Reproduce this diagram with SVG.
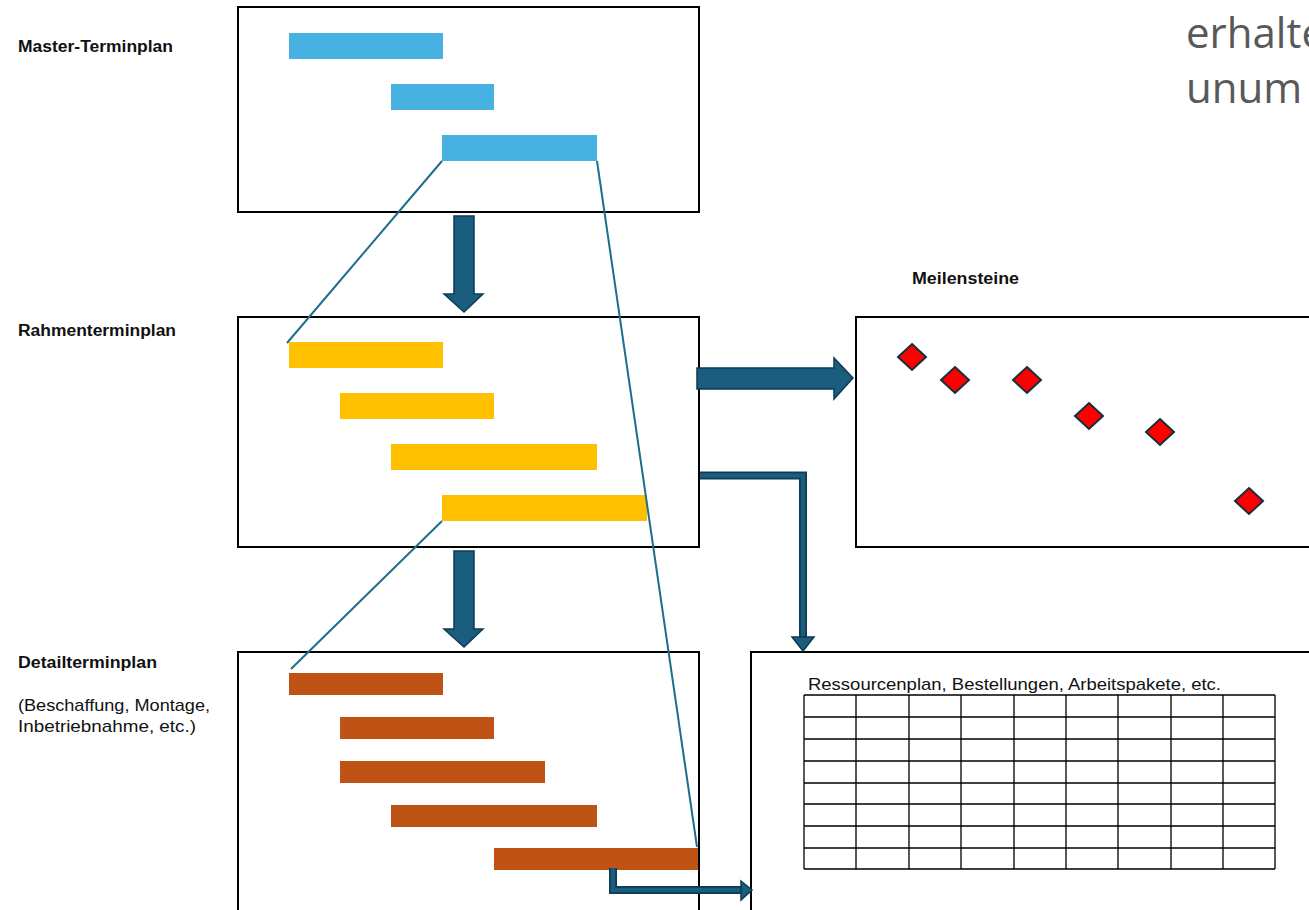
<svg xmlns="http://www.w3.org/2000/svg" width="1309" height="910" viewBox="0 0 1309 910">
<style>
.box{fill:#fff;stroke:#000;stroke-width:2}
.blue{fill:#47B2E2}
.yel{fill:#FFC000}
.ora{fill:#BF5215}
.lbl{font-family:"Liberation Sans",Arial,sans-serif;font-weight:bold;font-size:16px;fill:#111}
.txt{font-family:"Liberation Sans",Arial,sans-serif;font-size:17px;fill:#111}
.big{font-family:"Open Sans","Noto Sans",sans-serif;font-size:42px;fill:#595959}
.ln{stroke:#1F6D8E;stroke-width:2;fill:none}
.arr{fill:#1A5D7E;stroke:#0E3A52;stroke-width:1.5}
.elb{fill:none;stroke:#0E3A52;stroke-width:8}
.elbi{fill:none;stroke:#1A5D7E;stroke-width:4.5}
.dia{fill:#FF0000;stroke:#14303F;stroke-width:2}
.grid{stroke:#000;stroke-width:1.3;fill:none}
</style>
<rect width="1309" height="910" fill="#fff"/>
<g id="top-text">
<text class="big" x="1186" y="48">erhalte</text>
<text class="big" x="1186" y="103">unum</text>
</g>
<g id="master">
<text class="lbl" x="18" y="52" textLength="155" lengthAdjust="spacingAndGlyphs">Master-Terminplan</text>
<rect class="box" x="238" y="7" width="461" height="205"/>
<rect class="blue" x="289" y="33" width="154" height="26"/>
<rect class="blue" x="391" y="84" width="103" height="26"/>
<rect class="blue" x="442" y="135" width="155" height="26"/>
</g>
<g id="rahmen">
<text class="lbl" x="18" y="336" textLength="158" lengthAdjust="spacingAndGlyphs">Rahmenterminplan</text>
<rect class="box" x="238" y="317" width="461" height="230"/>
<rect class="yel" x="289" y="342" width="154" height="26"/>
<rect class="yel" x="340" y="393" width="154" height="26"/>
<rect class="yel" x="391" y="444" width="206" height="26"/>
<rect class="yel" x="442" y="495" width="205" height="26"/>
</g>
<g id="detail">
<text class="lbl" x="18" y="668" textLength="139" lengthAdjust="spacingAndGlyphs">Detailterminplan</text>
<text class="txt" x="18" y="711" textLength="192" lengthAdjust="spacingAndGlyphs">(Beschaffung, Montage,</text>
<text class="txt" x="18" y="732" textLength="178" lengthAdjust="spacingAndGlyphs">Inbetriebnahme, etc.)</text>
<rect class="box" x="238" y="652" width="461" height="270"/>
<rect class="ora" x="289" y="673" width="154" height="22"/>
<rect class="ora" x="340" y="717" width="154" height="22"/>
<rect class="ora" x="340" y="761" width="205" height="22"/>
<rect class="ora" x="391" y="805" width="206" height="22"/>
<rect class="ora" x="494" y="848" width="204" height="22"/>
</g>
<g id="meilensteine">
<text class="lbl" x="912" y="284" textLength="107" lengthAdjust="spacingAndGlyphs">Meilensteine</text>
<rect class="box" x="856" y="317" width="470" height="230"/>
<path class="dia" d="M912,344 L926,357 L912,370 L898,357 Z"/>
<path class="dia" d="M955,367 L969,380 L955,393 L941,380 Z"/>
<path class="dia" d="M1027,367 L1041,380 L1027,393 L1013,380 Z"/>
<path class="dia" d="M1089,403 L1103,416 L1089,429 L1075,416 Z"/>
<path class="dia" d="M1160,419 L1174,432 L1160,445 L1146,432 Z"/>
<path class="dia" d="M1249,488 L1263,501 L1249,514 L1235,501 Z"/>
</g>
<g id="ressourcen">
<rect class="box" x="751" y="652" width="575" height="270"/>
<text class="txt" x="808" y="690" textLength="413" lengthAdjust="spacingAndGlyphs">Ressourcenplan, Bestellungen, Arbeitspakete, etc.</text>
<path class="grid" d="M804,695 H1275 M804,717 H1275 M804,739 H1275 M804,761 H1275 M804,783 H1275 M804,804 H1275 M804,826 H1275 M804,848 H1275 M804,869 H1275 M804,695 V869 M856,695 V869 M909,695 V869 M961,695 V869 M1014,695 V869 M1066,695 V869 M1118,695 V869 M1171,695 V869 M1223,695 V869 M1275,695 V869"/>
</g>
<g id="connectors">
<line class="ln" x1="442" y1="161" x2="287" y2="343"/>
<line class="ln" x1="597" y1="161" x2="697" y2="847"/>
<line class="ln" x1="442" y1="521" x2="291" y2="669"/>
<path class="arr" d="M454,216 H474 V294 H483 L464,312 L444,294 H454 Z"/>
<path class="arr" d="M454,551 H474 V629 H483 L464,647 L444,629 H454 Z"/>
<path class="arr" d="M697,368 H834 V358 L853,378 L834,399 V389 H697 Z"/>
<path class="elb" d="M700,475.5 H803 V638"/>
<path class="elbi" d="M700,475.5 H803 V638"/>
<path class="arr" d="M792,637 H814 L803,651 Z"/>
<path class="elb" d="M613,868 V890 H742"/>
<path class="elbi" d="M613,868 V890 H742"/>
<path class="arr" d="M741,881 L752,890 L741,900 Z"/>
</g>
</svg>
